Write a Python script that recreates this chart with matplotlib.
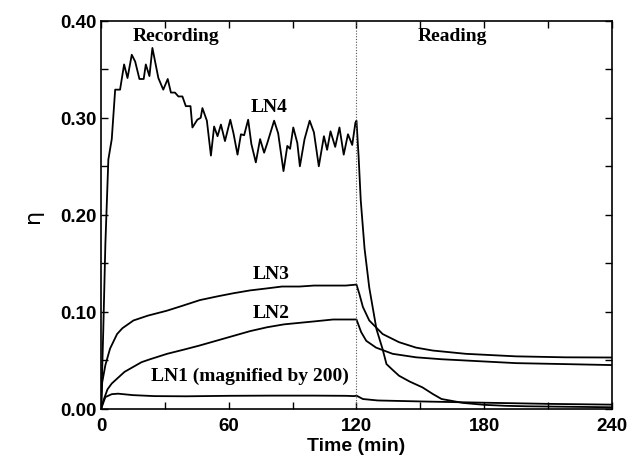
import matplotlib
matplotlib.use("Agg")
import matplotlib.pyplot as plt
from matplotlib.ticker import MultipleLocator

# ---- data ----
t_ln4 = [0, 1, 2, 3.4, 5, 6.6, 8.9, 10.8, 12.4, 14.4, 16, 18, 20, 21, 22.7, 24.1, 26.9,
         29.2, 31.3, 32.8, 34.7, 36.3, 38.2, 39.8, 42, 42.9, 45.2, 46.8, 47.6, 49.7, 51.6,
         53.1, 54.7, 56.3, 58.2, 60.7, 62.2, 64.1, 65.7, 67.2, 69.1, 70.6, 72.7, 74.7, 76.6,
         78.1, 81.3, 83.2, 85.7, 87.5, 88.8, 90.3, 92.2, 93.4, 95.6, 98, 100, 102.3, 104.7,
         106.2, 107.8, 110, 112, 114, 116, 118, 119.5, 120,
         121, 122, 123.8, 126, 129.4, 132.2, 134.1, 137, 140, 145, 151, 156, 160, 170,
         180, 190, 200, 220, 240]
eta_ln4 = [0.0, 0.08, 0.17, 0.257, 0.278, 0.329, 0.329, 0.355, 0.341, 0.365, 0.358, 0.340,
           0.340, 0.355, 0.343, 0.372, 0.341, 0.329, 0.340, 0.326, 0.326, 0.322, 0.322,
           0.312, 0.312, 0.290, 0.298, 0.300, 0.310, 0.297, 0.261, 0.291, 0.281, 0.293,
           0.276, 0.298, 0.284, 0.262, 0.283, 0.282, 0.298, 0.273, 0.254, 0.278, 0.264,
           0.274, 0.297, 0.284, 0.245, 0.271, 0.268, 0.290, 0.274, 0.250, 0.278, 0.297,
           0.285, 0.250, 0.281, 0.267, 0.286, 0.270, 0.290, 0.262, 0.283, 0.272, 0.295,
           0.297,
           0.26, 0.215, 0.165, 0.125, 0.082, 0.062, 0.046, 0.040, 0.034, 0.028, 0.022,
           0.015, 0.010, 0.006, 0.004, 0.003, 0.0025, 0.002, 0.0015]

t_ln3 = [0, 0.5, 2, 4.2, 7.5, 10, 15.2, 22, 30.8, 38, 46.4, 55, 62, 70, 77.7, 85, 93.3,
         100, 109, 115, 120, 121.4, 123, 126, 132.3, 140, 148, 155.8, 171.4, 194.9, 218, 240]
eta_ln3 = [0.0, 0.027, 0.045, 0.062, 0.077, 0.083, 0.091, 0.096, 0.101, 0.106, 0.112,
           0.116, 0.119, 0.122, 0.124, 0.126, 0.126, 0.127, 0.127, 0.127, 0.128, 0.118,
           0.105, 0.091, 0.077, 0.0686, 0.063, 0.060, 0.0566, 0.054, 0.053, 0.0528]

t_ln2 = [0, 1, 3, 5, 7.5, 11, 15, 19, 23, 31, 39, 46, 54, 62, 70, 78, 86, 93, 100, 109,
         115, 120, 122.2, 124.6, 129.2, 137, 148, 160, 171.4, 195, 218, 240]
eta_ln2 = [0.0, 0.008, 0.02, 0.026, 0.031, 0.038, 0.043, 0.048, 0.051, 0.0566, 0.061,
           0.065, 0.070, 0.075, 0.080, 0.084, 0.087, 0.0885, 0.090, 0.092, 0.092, 0.092,
           0.079, 0.070, 0.063, 0.0566, 0.053, 0.051, 0.0497, 0.047, 0.046, 0.045]

t_ln1 = [0, 2, 5, 8, 15, 25, 40, 60, 80, 100, 115, 119, 120, 123, 130, 150, 180, 210, 240]
eta_ln1 = [0.0, 0.012, 0.015, 0.0155, 0.014, 0.013, 0.0128, 0.0133, 0.0135, 0.0135,
           0.0133, 0.013, 0.0135, 0.010, 0.0085, 0.0075, 0.0062, 0.005, 0.0042]

x_ticks = [0, 60, 120, 180, 240]
y_ticks = [0.00, 0.10, 0.20, 0.30, 0.40]
y_tick_labels = ["0.00", "0.10", "0.20", "0.30", "0.40"]

fig = plt.figure(figsize=(6.4, 4.64), dpi=100)
ax = fig.add_axes([0.158, 0.117, 0.798, 0.836])

lw = 1.3
for tt, yy in [(t_ln4, eta_ln4), (t_ln3, eta_ln3), (t_ln2, eta_ln2), (t_ln1, eta_ln1)]:
    ax.plot(tt, yy, color="black", lw=lw)

ax.axvline(120, color="#555555", lw=0.8, ls=(0, (1, 1.5)))

ax.set_xlim(0, 240)
ax.set_ylim(0, 0.40)
ax.set_xticks(x_ticks)
ax.set_yticks(y_ticks)
ax.set_yticklabels(y_tick_labels)
ax.xaxis.set_minor_locator(MultipleLocator(30))
ax.yaxis.set_minor_locator(MultipleLocator(0.05))
ax.tick_params(which="both", direction="in", top=True, right=True, width=1)
ax.tick_params(which="major", length=5)
ax.tick_params(which="minor", length=5)
ax.tick_params(axis="x", pad=6)
for lab in ax.get_xticklabels() + ax.get_yticklabels():
    lab.set_fontfamily("Liberation Sans")
    lab.set_fontweight("bold")
    lab.set_fontsize(13.5)
for sp in ax.spines.values():
    sp.set_linewidth(1.2)

ax.set_xlabel("Time (min)", fontfamily="Liberation Sans", fontweight="bold", fontsize=14,
              labelpad=2)
ax.set_ylabel("η", fontfamily="DejaVu Sans", fontsize=16, rotation=90, labelpad=12)

serif = dict(fontfamily="Liberation Serif", fontweight="bold", fontsize=14,
             ha="center", va="center")
ax.text(35, 0.385, "Recording", **serif)
ax.text(165, 0.385, "Reading", **serif)
ax.text(79, 0.312, "LN4", **serif)
ax.text(80, 0.139, "LN3", **serif)
ax.text(80, 0.0995, "LN2", **serif)
ax.text(70, 0.034, "LN1 (magnified by 200)", **serif)

fig.savefig("out.png", dpi=100)
